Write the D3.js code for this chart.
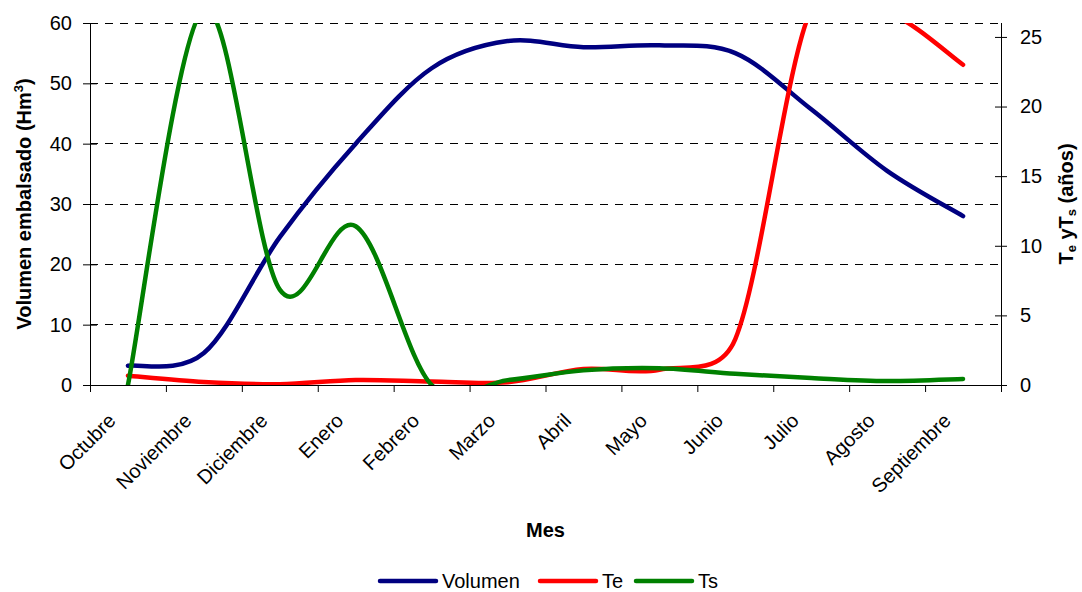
<!DOCTYPE html>
<html>
<head>
<meta charset="utf-8">
<script src="https://cdn.jsdelivr.net/npm/d3@7"></script>
<style>
  html, body { margin: 0; padding: 0; background: #fff; }
  svg { display: block; font-family: "Liberation Sans", Arial, sans-serif; }
</style>
</head>
<body>
<svg id="chart" width="1082" height="592"></svg>
<script>
// ---------- data ----------
const months = ["Octubre","Noviembre","Diciembre","Enero","Febrero","Marzo","Abril","Mayo","Junio","Julio","Agosto","Septiembre"];
const volumen = [3.2, 5.3, 24.5, 40, 52.5, 57, 56, 56.3, 55, 45.7, 35.5, 28];
const te      = [0.67, 0.22, 0.06, 0.36, 0.25, 0.2, 1.15, 1.1, 3.3, 27, 26.8, 23];
const ts      = [0, 27, 6.85, 11.4, 0, 0.35, 1.05, 1.2, 0.8, 0.5, 0.28, 0.43];
const leftTicks  = [0, 10, 20, 30, 40, 50, 60];
const rightTicks = [0, 5, 10, 15, 20, 25];
const seriesNames = ["Volumen", "Te", "Ts"];

// ---------- layout ----------
const L = 90, R = 1001, T = 23, B = 385;
const svg = d3.select("#chart");

const x = d3.scaleBand().domain(months).range([L, R]).padding(0);
const xc = m => x(m) + x.bandwidth() / 2;
const yL = d3.scaleLinear().domain([0, 60]).range([B, T]);
const yR = d3.scaleLinear().domain([0, 26]).range([B, T]);

// Excel-like smoothed line (Bezier with limited control-point length)
function excelCurve(context) {
  let pts;
  const dist = (a, b) => Math.hypot(b[0] - a[0], b[1] - a[1]);
  return {
    areaStart() {}, areaEnd() {},
    lineStart() { pts = []; },
    point(px, py) { pts.push([+px, +py]); },
    lineEnd() {
      const n = pts.length;
      if (!n) return;
      context.moveTo(pts[0][0], pts[0][1]);
      for (let i = 0; i < n - 1; i++) {
        const p0 = pts[Math.max(i - 1, 0)], p1 = pts[i], p2 = pts[i + 1], p3 = pts[Math.min(i + 2, n - 1)];
        const d12 = dist(p1, p2), d02 = dist(p0, p2), d13 = dist(p1, p3);
        let f1 = 1 / 6, f2 = 1 / 6;
        if (d02 > 0 && d02 / 6 > d12 / 2) f1 = d12 / (2 * d02);
        if (d13 > 0 && d13 / 6 > d12 / 2) f2 = d12 / (2 * d13);
        const c1x = p1[0] + f1 * (p2[0] - p0[0]), c1y = p1[1] + f1 * (p2[1] - p0[1]);
        const c2x = p2[0] - f2 * (p3[0] - p1[0]), c2y = p2[1] - f2 * (p3[1] - p1[1]);
        context.bezierCurveTo(c1x, c1y, c2x, c2y, p2[0], p2[1]);
      }
    }
  };
}

// ---------- gridlines ----------
svg.append("g").selectAll("line")
  .data(leftTicks.filter(v => v > 0))
  .join("line")
  .attr("x1", L).attr("x2", R)
  .attr("y1", d => yL(d)).attr("y2", d => yL(d))
  .attr("stroke", "#000").attr("stroke-width", 1)
  .attr("stroke-dasharray", "8,7")
  .attr("shape-rendering", "crispEdges");

// ---------- series ----------
svg.append("defs").append("clipPath").attr("id", "clip")
  .append("rect").attr("x", L).attr("y", T).attr("width", R - L).attr("height", B - T + 0.5);

const plot = svg.append("g").attr("clip-path", "url(#clip)");
const colors = { Volumen: "#000080", Te: "#ff0000", Ts: "#008000" };

const lineL = d3.line().x((d, i) => xc(months[i])).y(d => yL(d)).curve(excelCurve);
const lineR = d3.line().x((d, i) => xc(months[i])).y(d => yR(d)).curve(excelCurve);

[["Volumen", volumen, lineL], ["Te", te, lineR], ["Ts", ts, lineR]].forEach(([name, vals, gen]) => {
  plot.append("path")
    .attr("d", gen(vals))
    .attr("fill", "none")
    .attr("stroke", colors[name])
    .attr("stroke-width", 4.5)
    .attr("stroke-linecap", "round")
    .attr("stroke-linejoin", "round");
});

// ---------- axes ----------
const axisFont = 20;

// left axis
const gL = svg.append("g").attr("transform", `translate(${L},0)`)
  .call(d3.axisLeft(yL).tickValues(leftTicks).tickSize(7).tickPadding(11).tickSizeOuter(0));
gL.select(".domain").attr("stroke", "#000").attr("d", `M0.5,${T}V${B}`);
gL.selectAll(".tick line").attr("x1", 7).attr("x2", -7).attr("stroke", "#000");
gL.selectAll(".tick text").attr("font-size", axisFont).attr("fill", "#000").attr("font-family", "Liberation Sans, Arial, sans-serif");

// right axis
const gR = svg.append("g").attr("transform", `translate(${R},0)`)
  .call(d3.axisRight(yR).tickValues(rightTicks).tickSize(6).tickPadding(13).tickSizeOuter(0));
gR.select(".domain").attr("stroke", "#000").attr("d", `M0.5,${T}V${B}`);
gR.selectAll(".tick line").attr("x1", -6).attr("x2", 6).attr("stroke", "#000");
gR.selectAll(".tick text").attr("font-size", axisFont).attr("fill", "#000").attr("font-family", "Liberation Sans, Arial, sans-serif");

// bottom axis
const gB = svg.append("g").attr("transform", `translate(0,${B})`)
  .call(d3.axisBottom(x).tickSize(0).tickSizeOuter(0));
gB.select(".domain").attr("stroke", "#000").attr("d", `M${L},0.5H${R}`);
gB.selectAll(".tick text")
  .attr("font-size", axisFont).attr("fill", "#000")
  .attr("font-family", "Liberation Sans, Arial, sans-serif")
  .attr("text-anchor", "end")
  .attr("x", -11).attr("y", 37).attr("dy", 0)
  .attr("transform", "rotate(-45,-11,37)");
// category boundary ticks
gB.append("g").selectAll("line")
  .data(months.concat([null]))
  .join("line")
  .attr("x1", (d, i) => (d ? x(d) : R) + 0.5).attr("x2", (d, i) => (d ? x(d) : R) + 0.5)
  .attr("y1", 0).attr("y2", 7)
  .attr("stroke", "#000");

// ---------- titles ----------
svg.append("text")
  .attr("x", (L + R) / 2).attr("y", 537)
  .attr("text-anchor", "middle").attr("font-weight", "bold").attr("font-size", 20)
  .text("Mes");

const tl = svg.append("text")
  .attr("transform", `translate(31,${(T + B) / 2}) rotate(-90)`)
  .attr("text-anchor", "middle").attr("font-weight", "bold").attr("font-size", 20);
tl.append("tspan").text("Volumen embalsado (Hm");
tl.append("tspan").attr("font-size", 13).attr("dy", -8).text("3");
tl.append("tspan").attr("dy", 8).text(")");

const tr = svg.append("text")
  .attr("transform", `translate(1073,${(T + B) / 2}) rotate(-90)`)
  .attr("text-anchor", "middle").attr("font-weight", "bold").attr("font-size", 20);
tr.append("tspan").text("T");
tr.append("tspan").attr("font-size", 13).attr("dy", 3).text("e");
tr.append("tspan").attr("dy", -3).text(" y");
tr.append("tspan").text("T");
tr.append("tspan").attr("font-size", 13).attr("dy", 3).text("s");
tr.append("tspan").attr("dy", -3).text(" (años)");

// ---------- legend ----------
const legendX = [380, 540, 636];
const legendY = 581;
const lg = svg.append("g");
seriesNames.forEach((name, i) => {
  const g = lg.append("g").attr("transform", `translate(${legendX[i]},${legendY})`);
  g.append("line").attr("x1", 0).attr("x2", 56).attr("y1", 0).attr("y2", 0)
    .attr("stroke", colors[name]).attr("stroke-width", 4.5).attr("stroke-linecap", "round");
  g.append("text").attr("x", 62).attr("y", 7).attr("font-size", 20).attr("fill", "#000").text(name);
});
</script>
</body>
</html>
